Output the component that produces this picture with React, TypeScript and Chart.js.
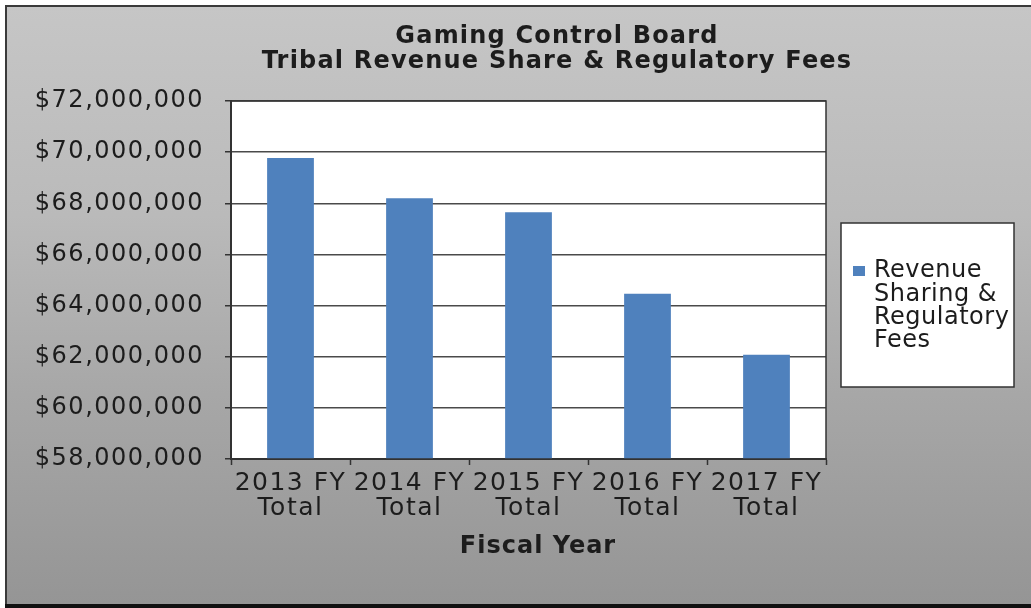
import React, { useEffect, useRef } from "react";
import { Chart, registerables } from "chart.js";

Chart.register(...registerables);

// ---- data ----
const titleLines = ["Gaming Control Board", "Tribal Revenue Share & Regulatory Fees"];
const categories = [
  ["2013 FY", "Total"],
  ["2014 FY", "Total"],
  ["2015 FY", "Total"],
  ["2016 FY", "Total"],
  ["2017 FY", "Total"],
];
const seriesName = "Revenue Sharing & Regulatory Fees";
const legendLines = ["Revenue", "Sharing &", "Regulatory", "Fees"];
const revenueValues = [69770000, 68200000, 67650000, 64460000, 62080000];
const yMin = 58000000;
const yMax = 72000000;
const yStep = 2000000;
const xAxisTitle = "Fiscal Year";

// ---- styles ----
const W = 1031;
const H = 608;
const FONT = '"DejaVu Sans", sans-serif';
const BLUE = "#4f81bd";
const TEXT = "#1c1c1c";
const GRID = "#4a4a4a";
const AXIS = "#333333";

const decorPlugin = {
  id: "decor",
  beforeDraw(chart: any) {
    const ctx = chart.ctx;
    const { width, height, chartArea } = chart;
    ctx.save();
    ctx.fillStyle = "#ffffff";
    ctx.fillRect(0, 0, width, height);
    const g = ctx.createLinearGradient(0, 6, 0, height - 4);
    g.addColorStop(0, "#c6c6c6");
    g.addColorStop(0.35, "#bababa");
    g.addColorStop(0.65, "#a7a7a7");
    g.addColorStop(1, "#959595");
    ctx.fillStyle = g;
    ctx.fillRect(6, 6, width - 6, height - 10);
    // frame
    ctx.strokeStyle = "#3a3a3a";
    ctx.lineWidth = 2;
    ctx.beginPath();
    ctx.moveTo(6, height);
    ctx.lineTo(6, 6);
    ctx.lineTo(width, 6);
    ctx.stroke();
    ctx.fillStyle = "#111111";
    ctx.fillRect(5, height - 4, width, 4);
    // plot area
    ctx.fillStyle = "#ffffff";
    ctx.fillRect(chartArea.left, chartArea.top, chartArea.right - chartArea.left, chartArea.bottom - chartArea.top);
    ctx.restore();
    // wider text for the axis tick labels
    (ctx as any).letterSpacing = "1.5px";
  },
  afterDraw(chart: any) {
    const ctx = chart.ctx;
    const { chartArea } = chart;
    ctx.save();
    // plot border
    ctx.strokeStyle = AXIS;
    ctx.lineWidth = 1.5;
    ctx.strokeRect(chartArea.left, chartArea.top, chartArea.right - chartArea.left, chartArea.bottom - chartArea.top);

    // title
    ctx.fillStyle = TEXT;
    ctx.textAlign = "center";
    ctx.textBaseline = "middle";
    ctx.font = `bold 24px ${FONT}`;
    (ctx as any).letterSpacing = "1.2px";
    titleLines.forEach((t, i) => ctx.fillText(t, 557, 37 + i * 25));

    // axis title
    (ctx as any).letterSpacing = "1px";
    ctx.fillText(xAxisTitle, 538, 547);

    // legend
    (ctx as any).letterSpacing = "0.5px";
    ctx.fillStyle = "#ffffff";
    ctx.fillRect(841, 223, 173, 164);
    ctx.strokeStyle = "#333333";
    ctx.lineWidth = 1.5;
    ctx.strokeRect(841, 223, 173, 164);
    ctx.fillStyle = BLUE;
    ctx.fillRect(853, 266, 12, 10);
    ctx.fillStyle = TEXT;
    ctx.textAlign = "left";
    ctx.font = `24px ${FONT}`;
    legendLines.forEach((t, i) => ctx.fillText(t, 874, 271 + i * 23.3));
    ctx.restore();
    (ctx as any).letterSpacing = "0px";
  },
};

export default function App() {
  const ref = useRef<HTMLCanvasElement | null>(null);
  useEffect(() => {
    if (!ref.current) return;
    const chart = new Chart(ref.current, {
      type: "bar",
      data: {
        labels: categories,
        datasets: [
          {
            label: seriesName,
            data: revenueValues,
            backgroundColor: BLUE,
            borderWidth: 0,
            categoryPercentage: 1,
            barPercentage: 0.393,
          },
        ],
      },
      options: {
        responsive: false,
        animation: false,
        devicePixelRatio: 1,
        layout: { padding: { left: 0, right: W - 826, top: 101, bottom: 0 } },
        plugins: {
          legend: { display: false },
          title: { display: false },
          tooltip: { enabled: false },
        },
        scales: {
          x: {
            offset: true,
            afterFit: (s: any) => {
              s.height = H - 459;
            },
            grid: {
              display: true,
              drawOnChartArea: false,
              drawTicks: true,
              tickLength: 6,
              tickColor: AXIS,
              tickWidth: 1.5,
              offset: true,
            },
            border: { display: true, color: AXIS, width: 2 },
            ticks: {
              color: TEXT,
              font: { family: FONT, size: 25, lineHeight: 1.0 },
              padding: 6,
              maxRotation: 0,
              autoSkip: false,
            },
          },
          y: {
            min: yMin,
            max: yMax,
            afterFit: (s: any) => {
              s.width = 231;
            },
            grid: {
              color: GRID,
              lineWidth: 1.5,
              drawTicks: true,
              tickLength: 6,
              tickColor: AXIS,
              tickWidth: 1.5,
            },
            border: { display: true, color: AXIS, width: 2 },
            ticks: {
              stepSize: yStep,
              color: TEXT,
              padding: 21,
              font: { family: FONT, size: 24 },
              callback: (v: any) => "$" + Number(v).toLocaleString("en-US"),
            },
          },
        },
      },
      plugins: [decorPlugin],
    });
    return () => chart.destroy();
  }, []);

  return (
    <div style={{ position: "absolute", left: 0, top: 0, width: W, height: H }}>
      <canvas ref={ref} width={W} height={H} style={{ width: W, height: H, display: "block" }} />
    </div>
  );
}
